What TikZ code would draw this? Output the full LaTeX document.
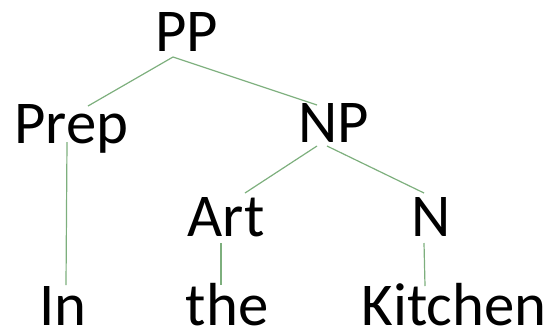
\documentclass[tikz,border=0pt]{standalone}
\usepackage{fontspec}
\setmainfont{Carlito}
\definecolor{edgecol}{RGB}{125,175,125}
\tikzset{
  word/.style={anchor=base, inner sep=0pt, text depth=0pt, font=\fontsize{61}{61}\selectfont},
  edge/.style={draw=edgecol, line width=1.2pt}
}
\begin{document}
\begin{tikzpicture}[x=1bp, y=-1bp]
\useasboundingbox (0,0) rectangle (553,334);
% words
\node[word] (pp)   at (186.5,51)  {PP};
\node[word] (prep) at (71.5,143)  {Prep};
\node[word] (np)   at (334,142.5) {NP};
\node[word] (art)  at (226,236)   {Art};
\node[word] (n)    at (431,236)   {N};
\node[word] (in)   at (63,325)    {In};
\node[word] (the)  at (227,325)   {the};
\node[word] (kit)  at (454,325)   {Kitchen};
% connector ends
\coordinate (ppB)   at (173,57);
\coordinate (prepT) at (88,106);
\coordinate (npT)   at (317,105);
\coordinate (prepB) at (67,142);
\coordinate (inT)   at (66,285);
\coordinate (npBL)  at (317,146);
\coordinate (npBR)  at (327,146);
\coordinate (artT)  at (245,193);
\coordinate (nT)    at (424,193);
\coordinate (artB)  at (221,243);
\coordinate (theT)  at (221,285);
\coordinate (nB)    at (424,243);
\coordinate (kitT)  at (425,286);
% connectors
\draw[edge] (ppB) -- (prepT);
\draw[edge] (ppB) -- (npT);
\draw[edge] (prepB) -- (inT);
\draw[edge] (npBL) -- (artT);
\draw[edge] (npBR) -- (nT);
\draw[edge] (artB) -- (theT);
\draw[edge] (nB) -- (kitT);
\end{tikzpicture}
\end{document}
